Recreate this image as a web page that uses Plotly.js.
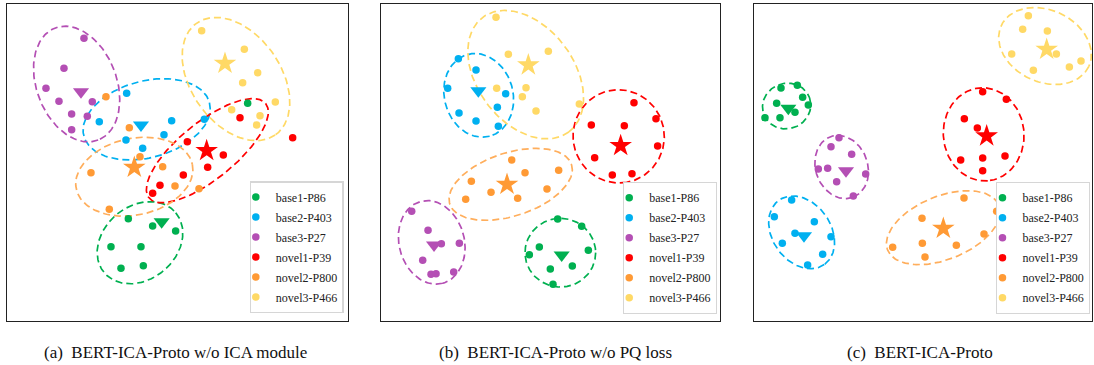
<!DOCTYPE html>
<html><head><meta charset="utf-8">
<script src="https://cdn.plot.ly/plotly-3.0.1.min.js"></script>
<style>html,body{margin:0;padding:0;background:#fff}#chart{width:1094px;height:365px}</style>
</head><body><div id="chart"></div>
<script>
// Class labels and colours
const classNames = ['base1-P86', 'base2-P403', 'base3-P27', 'novel1-P39', 'novel2-P800', 'novel3-P466'];
const dotColors = ['#00B050', '#00B0F0', '#B44FB4', '#FF0000', '#FF9A35', '#FFD966'];
const ringColors = ['#00B050', '#00B0F0', '#B44FB4', '#FF0000', '#FFAE5C', '#FFD966'];
const centroidSymbols = ['triangle-down', 'triangle-down', 'triangle-down', 'star', 'star', 'star'];
const captions = ['(a)\u00a0 BERT-ICA-Proto w/o ICA module', '(b)\u00a0 BERT-ICA-Proto w/o PQ loss', '(c)\u00a0 BERT-ICA-Proto'];

// ---------- Panel (a): BERT-ICA-Proto w/o ICA module (2-D embedding coordinates) ----------
const panelA_x = [
  [385, 458, 527, 333, 423, 363, 430, 743],
  [380, 298, 515, 613, 492, 378, 428],
  [252, 192, 138, 177, 277, 215, 262, 215],
  [720, 562, 670, 623, 550, 480, 458, 878],
  [318, 388, 420, 488, 273, 525, 597, 328],
  [605, 733, 773, 728, 826, 695, 780, 770]
];
const panelA_y = [
  [656, 678, 693, 740, 740, 805, 797, 310],
  [280, 365, 362, 358, 404, 420, 445],
  [115, 205, 265, 304, 305, 342, 349, 389],
  [353, 425, 465, 502, 525, 556, 580, 413],
  [290, 383, 470, 500, 518, 558, 566, 628],
  [92, 148, 218, 248, 306, 329, 347, 375]
];
const panelA_centerX = [485, 423, 243, 620, 403, 675];
const panelA_centerY = [665, 375, 275, 452, 502, 190];
const panelA_ellCx = [420, 440, 230, 622, 403, 708];
const panelA_ellCy = [728, 358, 252, 452, 530, 237];
const panelA_ellRx = [140, 195, 180, 225, 178, 205];
const panelA_ellRy = [110, 115, 120, 85, 115, 135];
const panelA_ellAng = [-40, -15, 69, -39, -12, 55];

// ---------- Panel (b): BERT-ICA-Proto w/o PQ loss ----------
const panelB_x = [
  [578, 650, 523, 493, 670, 556, 622, 564],
  [280, 333, 248, 422, 397, 282, 333, 400],
  [140, 189, 229, 283, 173, 198, 213, 266],
  [807, 873, 679, 778, 878, 689, 742, 801],
  [440, 480, 581, 319, 378, 546, 302, 458],
  [393, 430, 550, 395, 483, 472, 513, 643]
];
const panelB_y = [
  [657, 679, 741, 764, 751, 807, 798, 853],
  [176, 210, 265, 281, 322, 339, 363, 379],
  [634, 691, 731, 730, 781, 823, 821, 816],
  [308, 356, 375, 377, 438, 473, 525, 521],
  [480, 518, 511, 544, 577, 567, 598, 595],
  [52, 163, 154, 265, 263, 290, 333, 312]
];
const panelB_centerX = [590, 340, 207, 767, 426, 490];
const panelB_centerY = [765, 272, 735, 437, 553, 195];
const panelB_ellCx = [586, 341, 200, 761, 437, 482];
const panelB_ellCy = [758, 286, 727, 409, 553, 224];
const panelB_ellRx = [106, 127, 127, 140, 192, 215];
const panelB_ellRy = [103, 103, 98, 137, 95, 145];
const panelB_ellAng = [0, 75, 75, 80, -18, 53];

// ---------- Panel (c): BERT-ICA-Proto ----------
const panelC_x = [
  [153, 202, 218, 140, 235, 195, 105, 150],
  [185, 133, 253, 195, 303, 157, 278, 233],
  [327, 303, 365, 265, 293, 407, 320, 370],
  [758, 829, 703, 742, 692, 758, 825, 758],
  [702, 800, 576, 762, 577, 679, 488, 585],
  [895, 878, 952, 845, 979, 1053, 910, 1018]
];
const panelC_y = [
  [264, 256, 292, 310, 315, 337, 353, 353],
  [600, 650, 665, 700, 710, 730, 763, 795],
  [413, 440, 463, 507, 505, 522, 545, 588],
  [275, 298, 356, 384, 480, 474, 468, 512],
  [594, 634, 655, 702, 730, 736, 742, 771],
  [47, 88, 93, 162, 162, 183, 211, 201]
];
const panelC_centerX = [175, 222, 348, 770, 640, 950];
const panelC_centerY = [325, 707, 512, 408, 685, 148];
const panelC_ellCx = [170, 215, 335, 761, 640, 945];
const panelC_ellCy = [318, 697, 501, 403, 683, 138];
const panelC_ellRx = [73, 118, 97, 140, 180, 145];
const panelC_ellRy = [68, 88, 78, 121, 95, 108];
const panelC_ellAng = [-20, 55, 70, 85, -22, 25];

// ---------- build ----------
const panels = [
  {x: panelA_x, y: panelA_y, cx: panelA_centerX, cy: panelA_centerY, ex: panelA_ellCx, ey: panelA_ellCy, rx: panelA_ellRx, ry: panelA_ellRy, ang: panelA_ellAng},
  {x: panelB_x, y: panelB_y, cx: panelB_centerX, cy: panelB_centerY, ex: panelB_ellCx, ey: panelB_ellCy, rx: panelB_ellRx, ry: panelB_ellRy, ang: panelB_ellAng},
  {x: panelC_x, y: panelC_y, cx: panelC_centerX, cy: panelC_centerY, ex: panelC_ellCx, ey: panelC_ellCy, rx: panelC_ellRx, ry: panelC_ellRy, ang: panelC_ellAng}
];

function ellipse(cx, cy, a, b, angDeg) {
  const xs = [], ys = [];
  const ph = angDeg * Math.PI / 180;
  const n = 160;
  for (let i = 0; i <= n; i++) {
    const t = 2 * Math.PI * i / n;
    const u = a * Math.cos(t), v = b * Math.sin(t);
    xs.push(cx + u * Math.cos(ph) - v * Math.sin(ph));
    ys.push(cy + u * Math.sin(ph) + v * Math.cos(ph));
  }
  return {xs, ys};
}

const SERIF = "'Liberation Serif', 'Times New Roman', Times, serif";

const traces = [];
panels.forEach((p, pi) => {
  const xa = pi === 0 ? 'x' : 'x' + (pi + 1);
  const ya = pi === 0 ? 'y' : 'y' + (pi + 1);
  const lg = pi === 0 ? 'legend' : 'legend' + (pi + 1);
  // dashed cluster ellipses
  classNames.forEach((c, k) => {
    const e = ellipse(p.ex[k], p.ey[k], p.rx[k], p.ry[k], p.ang[k]);
    traces.push({type: 'scatter', mode: 'lines', x: e.xs, y: e.ys, xaxis: xa, yaxis: ya,
      line: {color: ringColors[k], width: 1.7, dash: '7px,4px'},
      hoverinfo: 'skip', showlegend: false});
  });
  // sample points
  classNames.forEach((c, k) => {
    traces.push({type: 'scatter', mode: 'markers', name: c, x: p.x[k], y: p.y[k], xaxis: xa, yaxis: ya,
      legend: lg, legendgroup: 'g' + pi + '_' + k, showlegend: true,
      marker: {color: dotColors[k], size: 7.5, line: {width: 0}}});
  });
  // prototypes
  classNames.forEach((c, k) => {
    traces.push({type: 'scatter', mode: 'markers', name: c + ' proto', x: [p.cx[k]], y: [p.cy[k]], xaxis: xa, yaxis: ya,
      showlegend: false,
      marker: {color: dotColors[k], symbol: centroidSymbols[k], size: centroidSymbols[k] === 'star' ? 17 : 14, line: {width: 0}}});
  });
});

function axis(dom, range, anchor) {
  return {domain: dom, range: range, anchor: anchor, showgrid: false, zeroline: false, showticklabels: false,
    ticks: '', showline: true, mirror: true, linecolor: '#222', linewidth: 1, fixedrange: true};
}
const yDom = [0.1214, 0.989];
function legendCfg(xr, yb) {
  return {x: xr, y: yb, xanchor: 'right', yanchor: 'bottom', bgcolor: '#ffffff', bordercolor: '#d6d6d6', borderwidth: 1.2,
    font: {family: SERIF, size: 12, color: '#222'}, traceorder: 'grouped', tracegroupgap: 1, indentation: -15,
    itemclick: false, itemdoubleclick: false};
}

const layout = {
  width: 1094, height: 365, margin: {l: 0, r: 0, t: 0, b: 0},
  font: {family: SERIF},
  paper_bgcolor: '#ffffff', plot_bgcolor: '#ffffff',
  xaxis: axis([0.00667, 0.3178], [22, 1043], 'y'),
  yaxis: axis(yDom, [962, 12], 'x'),
  xaxis2: axis([0.3483, 0.6581], [48, 1065], 'y2'),
  yaxis2: axis(yDom, [962, 12], 'x2'),
  xaxis3: axis([0.6895, 0.9985], [73, 1087], 'y3'),
  yaxis3: axis(yDom, [962, 12], 'x3'),
  legend: legendCfg(0.3141, 0.1416),
  legend2: legendCfg(0.6554, 0.1397),
  legend3: legendCfg(0.9966, 0.1397),
  annotations: [0.1603, 0.5076, 0.841].map((cx, i) => ({
    text: captions[i], xref: 'paper', yref: 'paper', x: cx, y: 0.0329, xanchor: 'center', yanchor: 'middle',
    showarrow: false, font: {family: SERIF, size: 17, color: '#111'}}))
};

Plotly.newPlot('chart', traces, layout, {displayModeBar: false, staticPlot: true});
</script></body></html>
